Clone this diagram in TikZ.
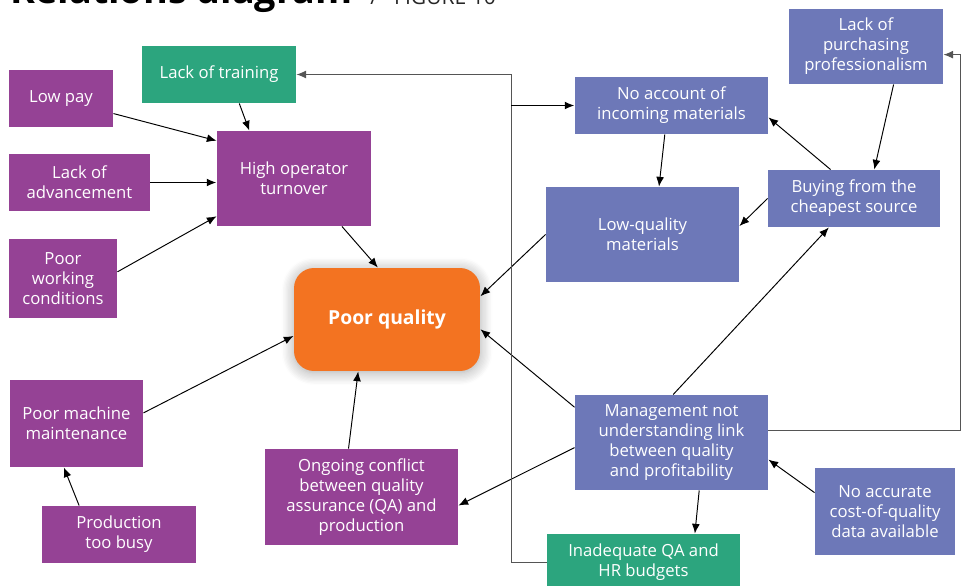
\documentclass[tikz,border=0pt]{standalone}
\usepackage{fontspec}
\setmainfont{Open Sans}
\usetikzlibrary{arrows.meta,shadows.blur}

\definecolor{causepurple}{HTML}{954295}
\definecolor{causeblue}{HTML}{6D78B8}
\definecolor{causegreen}{HTML}{2CA57E}
\definecolor{effectorange}{HTML}{F37321}
\definecolor{loopgray}{HTML}{555555}

\tikzstyle{cause} = [rectangle,text=white,align=center,inner sep=2pt,font=\fontsize{9.5}{11.4}\selectfont]
\tikzstyle{purplebox} = [cause,fill=causepurple]
\tikzstyle{bluebox} = [cause,fill=causeblue]
\tikzstyle{greenbox} = [cause,fill=causegreen]
\tikzstyle{effect} = [rectangle,rounded corners=0.4cm,fill=effectorange,text=white,font=\bfseries\fontsize{11}{13}\selectfont,
  blur shadow={shadow xshift=0pt,shadow yshift=-1pt,shadow blur radius=7pt,shadow blur steps=10,shadow opacity=35}]

\begin{document}
\begin{tikzpicture}[x=0.02cm,y=-0.02cm,line width=0.55pt,>={Latex[length=5.5pt,width=4.5pt]}]
		\useasboundingbox (0,0) rectangle (963,585);

		\node[anchor=base west,inner sep=0,font=\bfseries\fontsize{21.5}{24}\selectfont] (title) at (10,3) {Relations diagram};
		\node[anchor=base west,inner sep=0,font=\fontsize{12}{14}\selectfont,text=black!85] (fig) at (370,4) {/\hspace{0.32cm}FIGURE 10};

		\node[greenbox,minimum width=3.08cm,minimum height=1.14cm] (train) at (219,74.5) {Lack of training};
		\node[purplebox,minimum width=2.08cm,minimum height=1.14cm] (lowpay) at (61,98.5) {Low pay};
		\node[purplebox,minimum width=3.08cm,minimum height=1.9cm] (turnover) at (294,178.5) {High operator\\turnover};
		\node[purplebox,minimum width=2.82cm,minimum height=1.14cm] (advance) at (79.5,182.5) {Lack of\\advancement};
		\node[purplebox,minimum width=2.16cm,minimum height=1.58cm] (working) at (63,278.5) {Poor\\working\\conditions};
		\node[effect,minimum width=3.72cm,minimum height=2.06cm] (quality) at (387,319.5) {Poor quality};
		\node[purplebox,minimum width=2.66cm,minimum height=1.74cm] (machine) at (76.5,423.5) {Poor machine\\maintenance};
		\node[purplebox,minimum width=3.08cm,minimum height=1.14cm] (busy) at (119,534.5) {Production\\too busy};
		\node[purplebox,minimum width=3.86cm,minimum height=1.92cm] (conflict) at (361.5,497) {Ongoing conflict\\between quality\\assurance (QA) and\\production};
		\node[bluebox,minimum width=3.86cm,minimum height=1.14cm] (account) at (671.5,105.5) {No account of\\incoming materials};
		\node[bluebox,minimum width=3.08cm,minimum height=1.5cm] (purch) at (866,46.5) {Lack of\\purchasing\\professionalism};
		\node[bluebox,minimum width=3.86cm,minimum height=1.9cm] (lowmat) at (642.5,234.5) {Low-quality\\materials};
		\node[bluebox,minimum width=3.44cm,minimum height=1.14cm] (buying) at (854,198.5) {Buying from the\\cheapest source};
		\node[bluebox,minimum width=3.86cm,minimum height=1.9cm] (mgmt) at (671.5,442.5) {Management not\\understanding link\\between quality\\and profitability};
		\node[bluebox,minimum width=2.8cm,minimum height=1.74cm] (noacc) at (885,511.5) {No accurate\\cost-of-quality\\data available};
		\node[greenbox,minimum width=3.86cm,minimum height=1.12cm] (budget) at (643.5,562) {Inadequate QA and\\HR budgets};

		% left side
		\draw[->] (lowpay.-16) -- (turnover.154);
		\draw[->,line width=1pt] (advance.east) -- (advance.east -| turnover.west);
		\draw[->] (working.7) -- (turnover.206);
		\draw[->] (train.-55) -- (turnover.133);
		\draw[->] (turnover.-45) -- (quality.100);
		\draw[->] (machine.9) -- (quality.190);
		\draw[->] (busy.144) -- (machine.254);
		\draw[->] (conflict.105) -- (quality.241);

		% right side
		\draw[->] (mgmt.183) -- (conflict.-5);
		\draw[->] (mgmt.160) -- (quality.-6);
		\draw[->] (lowmat.west) -- (quality.14);
		\draw[->] (account.257) -- (lowmat.71);
		\draw[->] (buying.129) -- (account.-7);
		\draw[->] (buying.west) -- (lowmat.5);
		\draw[->] (purch.-54) -- (buying.55);
		\draw[->] (mgmt.88) -- (buying.229);
		\draw[->] (noacc.165) -- (mgmt.-10);
		\draw[->] (mgmt.-60) -- (budget.29);

		% loops
		\coordinate (rt) at (960,0);
		\coordinate (lt) at (511,0);
		\draw[->,draw=loopgray] (mgmt.7) -- (mgmt.7 -| rt) |- (purch.-6);
		\draw[->,draw=loopgray] (budget.west) -- (budget.west -| lt) |- (train.east);
		\draw[->,line width=1pt] (lt |- account.west) -- (account.west);
\end{tikzpicture}
\end{document}
